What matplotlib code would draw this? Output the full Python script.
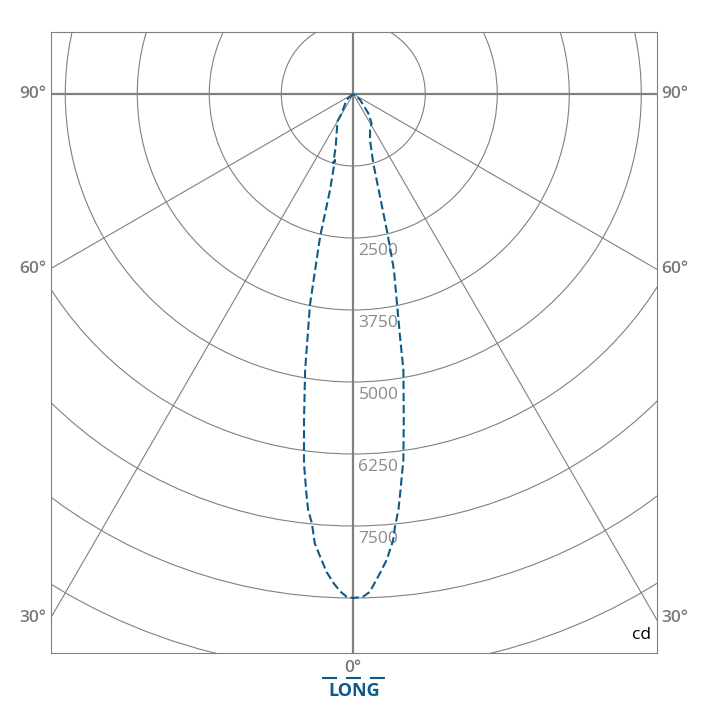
import numpy as np
import matplotlib.pyplot as plt
from matplotlib.patches import Circle
from matplotlib.lines import Line2D

plt.rcParams['font.family'] = ['Open Sans', 'DejaVu Sans']

# ===== DATA (LONG plane, gamma from nadir in degrees, intensity in cd) =====
ang_left = [0.75, 1.5, 2.3, 3.2, 4.1, 4.9, 5.5, 6.2, 6.7, 7.6, 8.6, 9.9, 11.6, 12.1, 13.1, 13.6, 15.5, 16.1, 18.5, 30, 31, 50, 90]
cd_left = [8730, 8640, 8500, 8310, 8050, 7830, 7490, 7260, 6980, 6470, 5720, 4860, 3740, 3240, 2540, 1720, 1190, 1250, 960, 550, 390, 150, 0]

ang_right = [0, 1.1, 1.9, 3.2, 4.1, 5.1, 5.5, 6.2, 6.7, 7.8, 8.8, 10.3, 10.9, 11.9, 13.0, 13.8, 15.2, 16.1, 20, 25, 32, 38, 50, 90]
cd_right = [8750, 8730, 8650, 8330, 8110, 7780, 7550, 7260, 6980, 6410, 5730, 4870, 4290, 3650, 3140, 2480, 1550, 1250, 850, 690, 600, 420, 150, 0]

ring_values = [1250, 2500, 3750, 5000, 6250, 7500, 8750, 10000]
ring_labels = ['2500', '3750', '5000', '6250', '7500']
radial_angles = [30, 60]

GRID = '#808080'
BLUE = '#0d5a8a'

fig = plt.figure(figsize=(7.08, 7.08), dpi=100)
ax = fig.add_axes([51 / 708, (708 - 652.7) / 708, 605.7 / 708, 620.4 / 708])
ax.set_xlim(-5248, 5268)
ax.set_ylim(-9700, 1071)

# ===== GRID =====
for r in ring_values:
    ax.add_patch(Circle((0, 0), r, fill=False, ec=GRID, lw=0.8, zorder=1))

R = 20000
for a in radial_angles:
    t = np.radians(a)
    for s in (-1, 1):
        ax.plot([0, s * R * np.sin(t)], [0, -R * np.cos(t)], color=GRID, lw=0.8, zorder=1)

ax.axvline(0, color=GRID, lw=1.6, zorder=2)
ax.axhline(0, color=GRID, lw=1.6, zorder=2)

for lab in ring_labels:
    v = float(lab)
    ax.text(90, -(v + 225), lab, color='#8a8a8a', fontsize=12.5, ha='left', va='center', zorder=3)

# ===== CURVE =====
tl = np.radians(ang_left[::-1])
rl = np.array(cd_left[::-1])
tr = np.radians(ang_right)
rr = np.array(cd_right)
xs = np.concatenate([-rl * np.sin(tl), rr * np.sin(tr)])
ys = np.concatenate([-rl * np.cos(tl), -rr * np.cos(tr)])
ax.plot(xs, ys, color=BLUE, lw=1.5, linestyle=(0, (4, 1.8)), zorder=4)

# ===== ANGLE LABELS =====
deg_style = dict(color='#7a7a7a', fontsize=12.5, fontweight='semibold', va='center')
for a in [90, 60, 30]:
    y = 0 if a == 90 else -5250 / np.tan(np.radians(a))
    ax.annotate(f'{a}°', xy=(0, y), xycoords=('axes fraction', 'data'),
                xytext=(-3, 0), textcoords='offset points', ha='right', **deg_style)
    ax.annotate(f'{a}°', xy=(1, y), xycoords=('axes fraction', 'data'),
                xytext=(3, 0), textcoords='offset points', ha='left', **deg_style)
ax.annotate('0°', xy=(0, 0), xycoords=('data', 'axes fraction'),
            xytext=(0, -11), textcoords='offset points', ha='center', **deg_style)

ax.text(0.99, 0.015, 'cd', transform=ax.transAxes, ha='right', va='bottom',
        fontsize=12.5, color='black')

# ===== LEGEND =====
fig.add_artist(Line2D([321.7 / 708, 385 / 708], [1 - 677.7 / 708] * 2, color=BLUE,
                      lw=1.5, linestyle=(0, (7.2, 4.3)), transform=fig.transFigure))
fig.text(354 / 708, 1 - 691.5 / 708, 'LONG', color=BLUE, fontsize=13,
         fontweight='bold', ha='center', va='center')

for sp in ax.spines.values():
    sp.set_color(GRID)
    sp.set_linewidth(0.8)
ax.set_xticks([])
ax.set_yticks([])

fig.savefig('out.png', dpi=100)
